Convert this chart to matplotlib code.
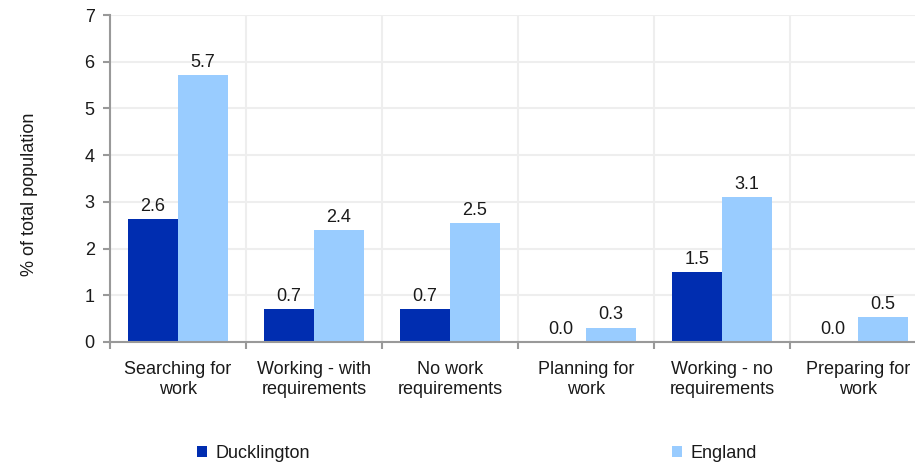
import matplotlib
matplotlib.use("Agg")
import matplotlib.pyplot as plt
from matplotlib.patches import Patch
import numpy as np

plt.rcParams['font.family'] = ['Liberation Sans', 'DejaVu Sans']

categories = ["Searching for\nwork", "Working - with\nrequirements", "No work\nrequirements",
              "Planning for\nwork", "Working - no\nrequirements", "Preparing for\nwork"]
ducklington = [2.64, 0.70, 0.70, 0.0, 1.49, 0.0]
england = [5.71, 2.39, 2.54, 0.31, 3.10, 0.54]
series_names = ["Ducklington", "England"]
yticks = [0, 1, 2, 3, 4, 5, 6, 7]

dark = "#002DB0"
light = "#99CCFF"
grid_c = "#EEEEEE"
axis_c = "#999999"
txt_c = "#1a1a1a"
fs = 13

W, H = 915, 463
fig = plt.figure(figsize=(W / 100, H / 100), dpi=100)
left, right, top, bottom = 110, 926, 15, 342
ax = fig.add_axes([left / W, 1 - bottom / H, (right - left) / W, (bottom - top) / H])

x = np.arange(len(categories))
bw = 0.368
b1 = ax.bar(x - bw / 2, ducklington, bw, color=dark, zorder=3)
b2 = ax.bar(x + bw / 2, england, bw, color=light, zorder=3)

for bars, vals in ((b1, ducklington), (b2, england)):
    for rect, v in zip(bars, vals):
        ax.annotate(f"{v:.1f}", (rect.get_x() + rect.get_width() / 2, rect.get_height()),
                    xytext=(0, 3), textcoords="offset points", ha="center", va="bottom",
                    fontsize=fs, color=txt_c)

ax.set_xlim(-0.5, len(categories) - 0.5)
ax.set_ylim(0, 7)
ax.set_yticks(yticks)
ax.set_yticklabels([str(t) for t in yticks], fontsize=fs, color=txt_c)

ax.set_xticks(x)
ax.set_xticklabels(categories, fontsize=fs, color=txt_c, linespacing=1.22)
ax.tick_params(axis="x", which="major", length=0, pad=14)
ax.set_xticks(np.arange(-0.5, len(categories), 1.0), minor=True)
ax.tick_params(axis="x", which="minor", length=5, width=1.5, color=axis_c, direction="out")
ax.tick_params(axis="y", length=5, width=1.5, color=axis_c, pad=6)

ax.grid(True, axis="y", which="major", color=grid_c, linewidth=1.5, zorder=0)
ax.grid(True, axis="x", which="minor", color=grid_c, linewidth=1.5, zorder=0)
ax.set_axisbelow(True)

for s in ("top", "right"):
    ax.spines[s].set_visible(False)
for s in ("left", "bottom"):
    ax.spines[s].set_color(axis_c)
    ax.spines[s].set_linewidth(1.5)
    ax.spines[s].set_zorder(4)

ax.set_ylabel("% of total population", fontsize=fs, color=txt_c)
ax.yaxis.set_label_coords((38 - left) / (right - left), (bottom - 194) / (bottom - top))

colors = [dark, light]
anchors_x = [197, 672]
for name, c, ax_x in zip(series_names, colors, anchors_x):
    leg = fig.legend([Patch(facecolor=c)], [name], loc="center left",
                     bbox_to_anchor=(ax_x / W, 1 - 453 / H), frameon=False, fontsize=fs,
                     handlelength=0.55, handleheight=0.55, handletextpad=0.5,
                     borderaxespad=0, borderpad=0)
    for t in leg.get_texts():
        t.set_color(txt_c)

fig.savefig("out.png", dpi=100)
